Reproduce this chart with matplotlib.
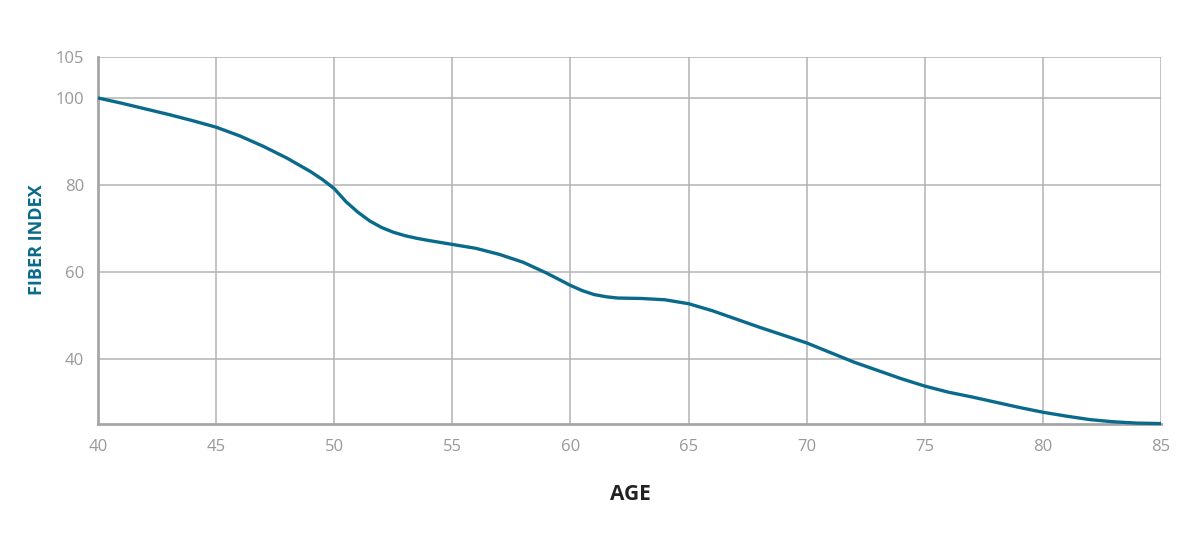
import matplotlib
matplotlib.use("Agg")
import matplotlib.pyplot as plt

ages = [40, 41, 42, 43, 44, 45, 46, 47, 48, 49, 49.5, 50, 50.5, 51, 51.5, 52,
        52.5, 53, 53.5, 54, 55, 56, 57, 58, 59, 60, 60.5, 61, 61.5, 62, 63,
        64, 65, 66, 67, 68, 69, 70, 71, 72, 73, 74, 75, 76, 77, 78, 79, 80,
        81, 82, 83, 84, 85]
fiber_index = [100.0, 98.8, 97.5, 96.2, 94.8, 93.3, 91.3, 88.9, 86.2, 83.1,
               81.3, 79.2, 76.2, 73.8, 71.8, 70.3, 69.2, 68.4, 67.8, 67.3,
               66.4, 65.5, 64.1, 62.3, 59.8, 57.0, 55.8, 54.9, 54.4, 54.1,
               54.0, 53.7, 52.8, 51.2, 49.3, 47.4, 45.6, 43.8, 41.6, 39.4,
               37.5, 35.6, 33.9, 32.5, 31.4, 30.2, 29.0, 27.9, 27.0, 26.2,
               25.7, 25.4, 25.3]
x_ticks = [40, 45, 50, 55, 60, 65, 70, 75, 80, 85]
y_ticks = [40, 60, 80, 100, 109.4]
y_tick_labels = ['40', '60', '80', '100', '105']

plt.rcParams['font.family'] = ['Open Sans', 'DejaVu Sans']

fig = plt.figure(figsize=(12, 5.52), dpi=100)
ax = fig.add_axes([98/1200, 1-424/552, (1161-98)/1200, (424-57)/552])

grid_c = '#b3b3b3'
ax.plot(ages, fiber_index, color='#0a6a8c', lw=2.4, solid_joinstyle='round',
        solid_capstyle='butt', zorder=3, clip_on=False)
ax.set_xlim(40, 85)
ax.set_ylim(25.2, 109.4)
ax.set_xticks(x_ticks)
ax.set_yticks(y_ticks)
ax.set_yticklabels(y_tick_labels)
ax.grid(True, color=grid_c, lw=1.1)
ax.tick_params(length=0, colors='#999999', labelsize=12)
ax.tick_params(axis='x', pad=11)
ax.tick_params(axis='y', pad=10)
for s in ['top', 'right']:
    ax.spines[s].set_visible(False)
for s in ['left', 'bottom']:
    ax.spines[s].set_color('#a6a6a6')
    ax.spines[s].set_linewidth(2)

fig.text(630/1200, 1-495/552, 'AGE', ha='center', va='center', fontsize=15,
         fontweight='bold', color='#222222')
fig.text(37/1200, 1-240/552, 'FIBER INDEX', ha='center', va='center',
         fontsize=13, fontweight='bold', color='#0a6a8c', rotation=90)

fig.savefig('out.png', dpi=100)
